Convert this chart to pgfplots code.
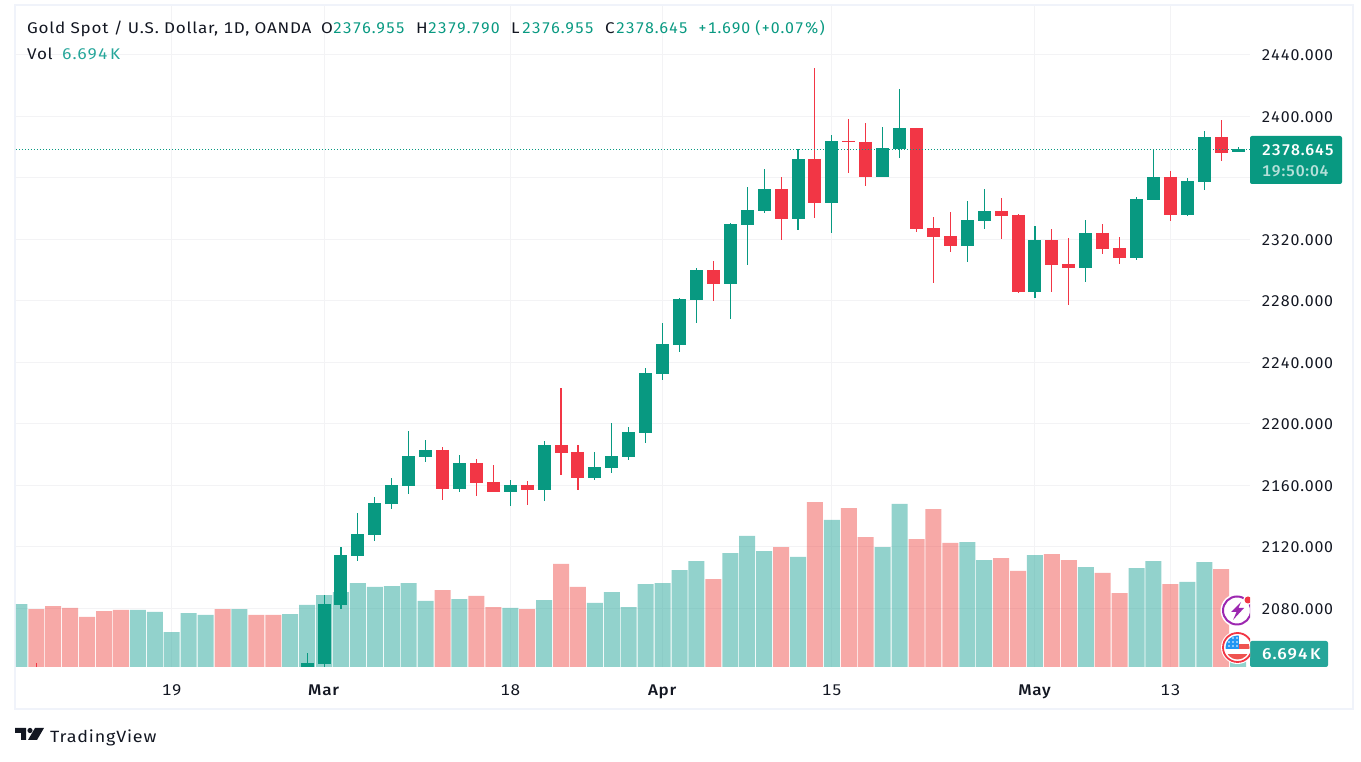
\documentclass[border=0pt]{standalone}
\usepackage{pgfplots}
\usepackage{pgfplotstable}
\usepackage{fontspec}
\pgfplotsset{compat=1.18}
\setmainfont[FakeStretch=1.1,LetterSpace=5,Numbers=Monospaced,BoldFont={Fira Sans Medium}]{Fira Sans}
\newfontfamily\numf[FakeStretch=1.025,LetterSpace=5,Numbers=Monospaced,BoldFont={Fira Sans Medium}]{Fira Sans}
\definecolor{upc}{HTML}{089981}
\definecolor{dnc}{HTML}{F23645}
\definecolor{volc}{HTML}{26A69A}
\definecolor{volr}{HTML}{EF5350}
\definecolor{gridc}{HTML}{F3F3F5}
\definecolor{framec}{HTML}{F0F3FA}
\definecolor{txt}{HTML}{131722}
\definecolor{purp}{HTML}{9C27B0}
\definecolor{flagb}{HTML}{2196F3}
\newcommand{\fs}{\fontsize{15.5}{18}\selectfont}

% candles, x = trading day index
\pgfplotstableread{
i o h l c
17 2035 2050.9 2030 2044.4
18 2043.8 2088.7 2040 2082.8
19 2082.2 2119.9 2079.6 2114.7
20 2114 2142 2110.8 2128.3
21 2127.7 2152.4 2123.8 2148.5
22 2147.8 2164.8 2144.6 2160.2
23 2159.6 2195.3 2154.4 2179.1
24 2178.4 2189.5 2175.2 2183
26 2157.6 2179.7 2155.7 2174.5
29 2155.7 2163.5 2146.6 2160.2
31 2157 2188.8 2149.8 2186.2
34 2164.8 2181.7 2163.5 2171.9
35 2171.3 2200.5 2168 2179.1
36 2178.4 2197.9 2176.4 2194.6
37 2194 2236.3 2187.5 2233
38 2232.4 2265.5 2228.5 2251.9
39 2251.2 2281.8 2246.7 2281.2
40 2280.5 2301.3 2265.5 2300
42 2290.9 2330.6 2268.1 2329.9
43 2329.3 2354 2303.3 2339
44 2338.4 2365.7 2337.1 2352.7
46 2333.2 2378.7 2326 2372.2
48 2343.6 2387.8 2324.1 2383.9
51 2360.5 2393 2360.5 2379.4
52 2378.7 2417.7 2372.8 2392.4
56 2315.6 2344.9 2305.2 2332.6
57 2331.9 2352.7 2326.7 2338.4
60 2285.7 2328.6 2281.8 2319.5
63 2301.3 2332.6 2292.2 2324.1
66 2307.8 2347.5 2306.5 2346.2
67 2345.6 2378.5 2345.6 2360.5
69 2335.8 2359.9 2335.2 2357.9
70 2357.3 2390.4 2352.1 2386.5
72 2376.955 2379.79 2376.955 2378.645
}\upcandles
\pgfplotstableread{
i o h l c
1 2038 2044.6 2028 2032
25 2183 2184.9 2150.5 2157.6
27 2174.5 2177.1 2153.1 2161.5
28 2162.2 2173.2 2155.7 2155.7
30 2160.2 2162.8 2147.2 2157
32 2186.2 2223.3 2166.7 2181
33 2181.7 2186.2 2157 2164.8
41 2300 2305.9 2279.9 2290.9
45 2352.7 2360.5 2319.5 2333.2
47 2372.2 2431.4 2333.8 2343.6
49 2384 2398.2 2363.1 2383.3
50 2383.3 2395.6 2354.6 2360.5
53 2392.4 2392.4 2324.7 2326.7
54 2327.3 2334.5 2291.6 2321.5
55 2322.1 2337.8 2311.7 2315.6
58 2338.4 2346.9 2320.2 2335.2
59 2335.8 2336.4 2285.1 2285.7
61 2319.5 2326.7 2285.7 2303.3
62 2303.9 2320.8 2277.3 2301.3
64 2324.1 2330 2310.4 2313.7
65 2314.3 2321.5 2303.9 2307.8
68 2360.5 2364.4 2331.9 2335.8
71 2386.5 2397.6 2370.9 2376.1
}\dncandles

% volume in thousands
\pgfplotstableread{
i v
0 34.2
7 31
8 29.9
9 19
10 29.3
11 28.3
13 31.5
16 28.8
17 33.7
18 39.1
19 40.7
20 45.6
21 43.5
22 44
23 45.6
24 35.9
26 36.9
29 32.1
31 36.4
34 34.8
35 40.7
36 32.6
37 45.1
38 45.6
39 52.7
40 57.6
42 61.9
43 71.2
44 63
46 59.8
48 79.9
51 65.2
52 88.6
56 67.9
57 58.1
60 60.8
63 54.3
66 53.8
67 57.6
69 46.2
70 57
72 6.694
}\upvol
\pgfplotstableread{
i v
1 31.5
2 33.1
3 32.1
4 27.2
5 30.4
6 31
12 31.5
14 28.3
15 28.3
25 41.8
27 38.6
28 32.6
30 31.5
32 56
33 43.5
41 47.8
45 65.2
47 89.6
49 86.4
50 70.6
53 69.5
54 85.8
55 67.4
58 59.2
59 52.2
61 61.4
62 58.1
64 51.1
65 40.2
68 45.1
71 53.2
}\dnvol

\begin{document}
\begin{tikzpicture}[x=1pt,y=1pt]
% page size and frame, 1pt = 1 reference pixel, y measured up from the bottom
\path (0,0) rectangle (1361,762);
\draw[framec,line width=2pt] (15,757) rectangle (1353,53);

\begin{axis}[
  at={(16pt,95pt)},anchor=south west,
  scale only axis,width=1234pt,height=661pt,
  xmin=-0.2,xmax=72.705,ymin=2041.8,ymax=2471.7,
  axis line style={draw=none},
  tick style={draw=none},
  grid=both,
  major grid style={gridc,line width=1pt},
  xtick={9,18,29,38,48,60,68},
  xticklabels={19,\textbf{Mar},18,\textbf{Apr},15,\textbf{May},13},
  ytick={2080,2120,2160,2200,2240,2280,2320,2360,2400,2440},
  yticklabels={2080.000,2120.000,2160.000,2200.000,2240.000,2280.000,2320.000,,2400.000,2440.000},
  yticklabel pos=right,
  tick label style={font=\fs,text=txt},
  yticklabel style={font=\fs\numf,anchor=west,xshift=8pt,yshift=-0.7pt},
  xticklabel style={yshift=-14pt},
]
\addplot[ybar,bar width=16pt,draw=none,fill=volc,fill opacity=0.5]
  table[x=i,y expr=2041.8+\thisrow{v}*1.1967]{\upvol};
\addplot[ybar,bar width=16pt,draw=none,fill=volr,fill opacity=0.5]
  table[x=i,y expr=2041.8+\thisrow{v}*1.1967]{\dnvol};
% wicks
\addplot[draw=none,no markers,error bars/.cd,y dir=both,y explicit,error mark=none,
    error bar style={draw=upc,line width=1.1pt}]
  table[x=i,y=o,y error plus expr=\thisrow{h}-\thisrow{o},y error minus expr=\thisrow{o}-\thisrow{l}]{\upcandles};
\addplot[draw=none,no markers,error bars/.cd,y dir=both,y explicit,error mark=none,
    error bar style={draw=dnc,line width=1.1pt}]
  table[x=i,y=o,y error plus expr=\thisrow{h}-\thisrow{o},y error minus expr=\thisrow{o}-\thisrow{l}]{\dncandles};
% bodies
\addplot[draw=none,no markers,error bars/.cd,y dir=plus,y explicit,error mark=none,
    error bar style={draw=upc,line width=13pt}]
  table[x=i,y=o,y error plus expr=\thisrow{c}-\thisrow{o}]{\upcandles};
\addplot[draw=none,no markers,error bars/.cd,y dir=minus,y explicit,error mark=none,
    error bar style={draw=dnc,line width=13pt}]
  table[x=i,y=o,y error minus expr=\thisrow{o}-\thisrow{c}]{\dncandles};
% last price line
\addplot[upc,line width=1pt,dash pattern=on 1pt off 2pt]
  coordinates {(-0.2,2378.645) (72.705,2378.645)};
\end{axis}

% header, logo and side labels: typed in reference pixels
\begin{scope}[shift={(0,762)},y=-1pt,every node/.style={inner sep=0pt,anchor=base west,font=\fs,text=txt}]
  \node at (27,34) {Gold Spot / U.S. Dollar, 1D, OANDA};
  \node at (321,34) {O}; \node[text=upc] at (333,34) {\numf 2376.955};
  \node at (416,34) {H}; \node[text=upc] at (428,34) {\numf 2379.790};
  \node at (511,34) {L}; \node[text=upc] at (522,34) {\numf 2376.955};
  \node at (605,34) {C}; \node[text=upc] at (616,34) {\numf 2378.645};
  \node[text=upc] at (698,34) {\numf +1.690 (+0.07\%)};
  \node at (27,60) {Vol};
  \node[text=volc] at (62,60) {6.694\,K};

  \fill[upc,rounded corners=2pt] (1250,136) -- (1342,136) -- (1342,184) -- (1250,184) -- cycle;
  \node[text=white] at (1262,156) {\numf\textbf{2378.645}};
  \node[text=white,opacity=0.7] at (1262,177) {\numf\textbf{19:50:04}};
  \fill[volc,rounded corners=2pt] (1250,641) -- (1328,641) -- (1328,667) -- (1250,667) -- cycle;
  \node[text=white] at (1262,660) {\textbf{6.694\,K}};

  \begin{scope}
    \clip (1215,590) rectangle (1250,667);
    \fill[white] (1237,610.5) circle (16.5);
    \draw[purp,line width=2pt] (1237,610.5) circle (14);
    \fill[purp] (1241,602) -- (1231,612) -- (1236.5,612) -- (1233,620) -- (1244,608) -- (1238.5,608) -- cycle;
    \fill[white] (1248,600) circle (5);
    \fill[dnc] (1248,600) circle (3.5);
    \fill[white] (1237.5,647.5) circle (16.5);
    \draw[dnc,line width=1.8pt] (1237.5,647.5) circle (14.5);
    \begin{scope}
      \clip (1237.5,647.5) circle (12);
      \fill[white] (1225,635) rectangle (1250,660);
      \fill[volr] (1225,654) rectangle (1250,660);
      \fill[volr] (1238,644) rectangle (1250,649);
      \fill[flagb] (1225,635) rectangle (1239,649);
      \foreach \sx in {1229,1233,1237} \foreach \sy in {638,642,646} \fill[white] (\sx,\sy) circle (0.9);
    \end{scope}
  \end{scope}

  % logo
  \fill[txt] (15,728) -- (26,728) -- (26,740) -- (21,740) -- (21,733) -- (15,733) -- cycle;
  \fill[txt] (30,730.5) circle (2.6);
  \fill[txt] (35,728) -- (44,728) -- (37,740) -- (28,740) -- cycle;
  \node[font=\fontsize{16.3}{20}\selectfont] at (50,743) {TradingView};
\end{scope}
\end{tikzpicture}
\end{document}
